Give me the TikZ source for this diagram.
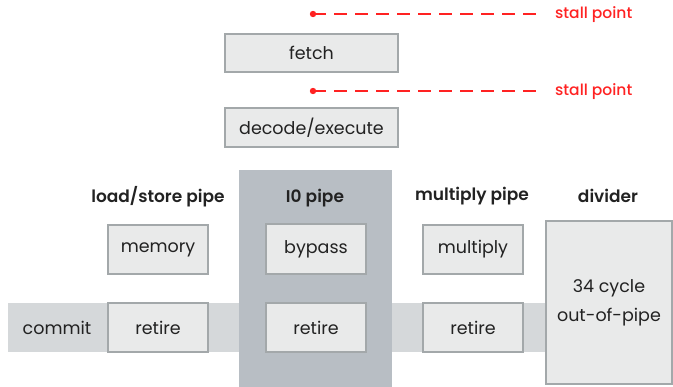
\documentclass[tikz,border=0pt]{standalone}
\usepackage{fontspec}
\setmainfont{Poppins}[BoldFont={* Medium}]
\newfontfamily\headfont{Poppins SemiBold}
\definecolor{boxfill}{HTML}{E9EAEA}
\definecolor{boxline}{HTML}{A3A8AA}
\definecolor{iofill}{HTML}{B8BEC4}
\definecolor{bandfill}{HTML}{D5D8DA}
\definecolor{stallred}{HTML}{FF2222}
\definecolor{txt}{HTML}{222222}
\begin{document}
\begin{tikzpicture}[x=1pt,y=-1pt,
  stagebox/.style={draw=boxline, fill=boxfill, line width=1.2pt, inner sep=0pt, text=txt, font=\fontsize{17.5}{21}\selectfont, align=center},
  heading/.style={text=txt, font=\fontsize{17}{21}\selectfont\headfont, inner sep=0pt},
  stalltext/.style={text=stallred, font=\fontsize{15.5}{18}\selectfont\bfseries, inner sep=0pt, anchor=west},
  stallline/.style={draw=stallred, line width=1.1pt, dash pattern=on 13pt off 8pt},
  area/.style={draw=none, inner sep=0pt}]
\useasboundingbox (0,0) rectangle (673,387);
% commit band and I0 column
\node[area, fill=bandfill, minimum width=539pt, minimum height=49pt] (band) at (277.5,327.5) {};
\node[area, fill=iofill, minimum width=153pt, minimum height=217pt] (io) at (315.5,278.5) {};
% stall points
\coordinate (s1) at (313,14);
\coordinate (s1e) at (537,14);
\coordinate (s2) at (313,91);
\coordinate (s2e) at (537,91);
\fill[stallred] (s1) circle (3.2pt);
\fill[stallred] (s2) circle (3.2pt);
\draw[stallline] (s1) -- (s1e);
\draw[stallline] (s2) -- (s2e);
\node[stalltext] (st1) at (555,15) {stall point};
\node[stalltext] (st2) at (555,92) {stall point};
% front end
\node[stagebox, minimum width=173pt, minimum height=38pt] (fetch) at (311.5,53) {fetch};
\node[stagebox, minimum width=173pt, minimum height=39pt] (decode) at (311.5,127.5) {decode/execute};
% headings
\node[heading] (hls) at (158,197) {load/store pipe};
\node[heading] (hio) at (315,198) {I0 pipe};
\node[heading] (hmul) at (472,196) {multiply pipe};
\node[heading] (hdiv) at (608,196) {divider};
% pipes
\node[text=txt, font=\fontsize{17.5}{21}\selectfont, inner sep=0pt] (commit) at (57,328) {commit};
\node[stagebox, minimum width=100pt, minimum height=49pt] (memory) at (158,249.5) {memory};
\node[stagebox, minimum width=100pt, minimum height=49pt] (retire1) at (158,327.5) {retire};
\node[stagebox, minimum width=100pt, minimum height=50pt] (bypass) at (316,249) {bypass};
\node[stagebox, minimum width=100pt, minimum height=49pt] (retire2) at (316,327.5) {retire};
\node[stagebox, minimum width=100pt, minimum height=49pt] (multiply) at (473,249.5) {multiply};
\node[stagebox, minimum width=100pt, minimum height=49pt] (retire3) at (473,327.5) {retire};
\node[stagebox, minimum width=126pt, minimum height=163pt, font=\fontsize{17.5}{29}\selectfont] (divider) at (609,302.5) {34 cycle\\out-of-pipe};
\end{tikzpicture}
\end{document}
